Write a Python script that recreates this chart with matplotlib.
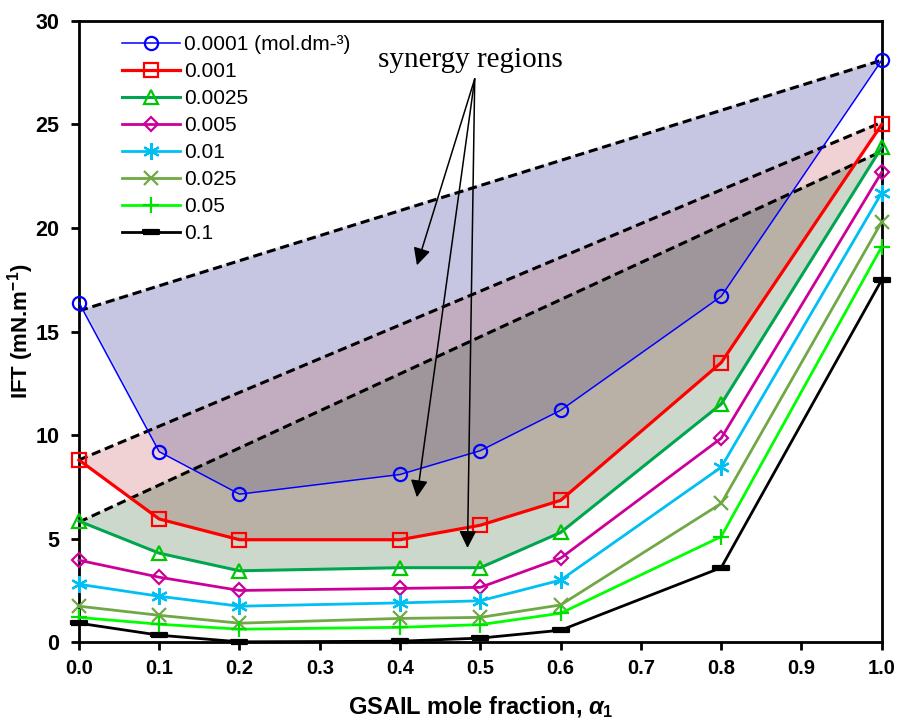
import numpy as np
import matplotlib
matplotlib.use('Agg')
import matplotlib.pyplot as plt
from matplotlib.ticker import MultipleLocator, FormatStrFormatter

# ---------------- data ----------------
x = [0.0, 0.1, 0.2, 0.4, 0.5, 0.6, 0.8, 1.0]
conc_labels = ['0.0001 (mol.dm-³)', '0.001', '0.0025', '0.005',
               '0.01', '0.025', '0.05', '0.1']
ift_00001 = [16.4, 9.2, 7.15, 8.1, 9.25, 11.2, 16.7, 28.1]
ift_0001 = [8.8, 5.95, 4.95, 4.95, 5.65, 6.85, 13.5, 25.0]
ift_00025 = [5.85, 4.3, 3.45, 3.6, 3.6, 5.3, 11.5, 23.9]
ift_0005 = [3.96, 3.14, 2.5, 2.6, 2.65, 4.06, 9.85, 22.7]
ift_001 = [2.8, 2.22, 1.74, 1.9, 2.0, 3.0, 8.45, 21.7]
ift_0025 = [1.74, 1.3, 0.92, 1.15, 1.2, 1.8, 6.7, 20.3]
ift_005 = [1.2, 0.87, 0.63, 0.72, 0.85, 1.4, 5.1, 19.1]
ift_01 = [0.92, 0.34, 0.02, 0.05, 0.2, 0.58, 3.6, 17.5]

# ideal-mixing (dashed) lines
ideal_x = [0.0, 1.0]
ideal_00001 = [16.0, 28.1]
ideal_0001 = [8.8, 25.1]
ideal_00025 = [5.8, 23.7]

annot_text = 'synergy regions'

# ---------------- style ----------------
plt.rcParams['font.family'] = ['Liberation Sans', 'DejaVu Sans']
plt.rcParams['mathtext.fontset'] = 'custom'
plt.rcParams['mathtext.rm'] = 'Liberation Sans:bold'
plt.rcParams['mathtext.it'] = 'Liberation Sans:bold:italic'
plt.rcParams['mathtext.bf'] = 'Liberation Sans:bold'

fig = plt.figure(figsize=(8.97, 7.2), dpi=100)
ax = fig.add_axes([0.088, 0.108, 0.895, 0.863])

# ---------------- shaded synergy regions (raster) ----------------
gx = np.linspace(0, 1, 1600)
gy = np.linspace(0, 30, 1500)
Y = gy[:, None]


def region(curve, ideal):
    lo = np.interp(gx, x, curve)
    hi = np.interp(gx, ideal_x, ideal)
    return (Y > lo[None, :]) & (Y < hi[None, :])


mB = region(ift_00001, ideal_00001)
mR = region(ift_0001, ideal_0001)
mG = region(ift_00025, ideal_00025)

combo_colors = {
    (1, 0, 0): (198, 198, 226),
    (0, 1, 0): (240, 210, 212),
    (0, 0, 1): (204, 216, 204),
    (1, 1, 0): (194, 172, 192),
    (0, 1, 1): (186, 177, 166),
    (1, 1, 1): (158, 150, 154),
    (1, 0, 1): (175, 180, 195),
}
img = np.zeros((len(gy), len(gx), 4))
for (b, r, g), col in combo_colors.items():
    m = (mB == bool(b)) & (mR == bool(r)) & (mG == bool(g))
    img[m, :3] = np.array(col) / 255.0
    img[m, 3] = 1.0

# mild soft edge (premultiplied box blur)
pre = img.copy()
pre[..., :3] *= pre[..., 3:4]
k = np.ones(7) / 7.0
for c in range(4):
    pre[..., c] = np.apply_along_axis(lambda v: np.convolve(v, k, mode='same'), 1, pre[..., c])
    pre[..., c] = np.apply_along_axis(lambda v: np.convolve(v, k, mode='same'), 0, pre[..., c])
a = pre[..., 3:4]
out = np.zeros_like(pre)
out[..., :3] = np.where(a > 1e-6, pre[..., :3] / np.maximum(a, 1e-6), 0)
out[..., 3] = pre[..., 3]
ax.imshow(out, extent=[0, 1, 0, 30], origin='lower', aspect='auto',
          interpolation='bilinear', zorder=1)

# dashed ideal lines
for ideal in (ideal_00001, ideal_0001, ideal_00025):
    ax.plot(ideal_x, ideal, color='black', lw=2.2, ls=(0, (3, 1.6)), zorder=3)

# ---------------- series ----------------
dash_marker = [(-1, -0.28), (1, -0.28), (1, 0.28), (-1, 0.28), (-1, -0.28)]
series = [
    (ift_00001, '#0000FF', '#0000FF', 'o', 9.5, 1.1),
    (ift_0001, '#FF0000', '#FF0000', 's', 10, 2.3),
    (ift_00025, '#00A550', '#00C800', '^', 10, 2.2),
    (ift_0005, '#CC0099', '#CC0099', 'D', 7.5, 2.0),
    (ift_001, '#00BFF3', '#00BFF3', (6, 2, 0), 12, 2.0),
    (ift_0025, '#70A845', '#70A845', 'x', 10, 2.0),
    (ift_005, '#00FF00', '#00E000', '+', 11, 2.0),
    (ift_01, '#000000', '#000000', dash_marker, 11, 2.0),
]
for (vals, lc, mc, mk, ms, lw), lab in zip(series, conc_labels):
    filled = mk is dash_marker
    ax.plot(x, vals, color=lc, lw=lw, marker=mk, markersize=ms,
            markerfacecolor=mc if filled else 'none', markeredgecolor=mc,
            markeredgewidth=1.6, label=lab, zorder=4, clip_on=False)

# ---------------- annotation ----------------
ax.text(0.487, 28.1, annot_text, fontsize=21, family=['Liberation Serif'],
        ha='center', va='center', zorder=6)
arrow_tips = [(0.421, 18.2), (0.421, 7.0), (0.484, 4.55)]
arrow_start = (0.493, 27.2)
for tip in arrow_tips:
    ax.annotate('', xy=tip, xytext=arrow_start,
                arrowprops=dict(arrowstyle='-|>', color='black', lw=1.1,
                                mutation_scale=26, shrinkA=0, shrinkB=0),
                zorder=6)

# ---------------- axes ----------------
ax.set_xlim(0, 1)
ax.set_ylim(0, 30)
ax.xaxis.set_major_locator(MultipleLocator(0.1))
ax.yaxis.set_major_locator(MultipleLocator(5))
ax.xaxis.set_major_formatter(FormatStrFormatter('%.1f'))
ax.tick_params(axis='both', direction='out', length=6, width=2)
ax.tick_params(axis='x', pad=6)
ax.tick_params(axis='y', pad=8)
for lab in ax.get_xticklabels():
    lab.set_fontweight('bold')
    lab.set_fontsize(14.5)
for lab in ax.get_yticklabels():
    lab.set_fontweight('bold')
    lab.set_fontsize(15.5)
for sp in ax.spines.values():
    sp.set_linewidth(2)

ax.set_ylabel(r'IFT (mN.m$^{-1}$)', fontsize=16, fontweight='bold')
ax.yaxis.set_label_coords(-0.053, 0.5)
ax.set_xlabel(r'GSAIL mole fraction, $\alpha_1$', fontsize=17, fontweight='bold')
ax.xaxis.set_label_coords(0.5, -0.083)

leg = ax.legend(loc='upper left', bbox_to_anchor=(0.035, 1.0), frameon=False,
                fontsize=15, handlelength=2.8, handletextpad=0.2,
                labelspacing=0.38, borderaxespad=0.3)

fig.savefig('out.png', dpi=100)
